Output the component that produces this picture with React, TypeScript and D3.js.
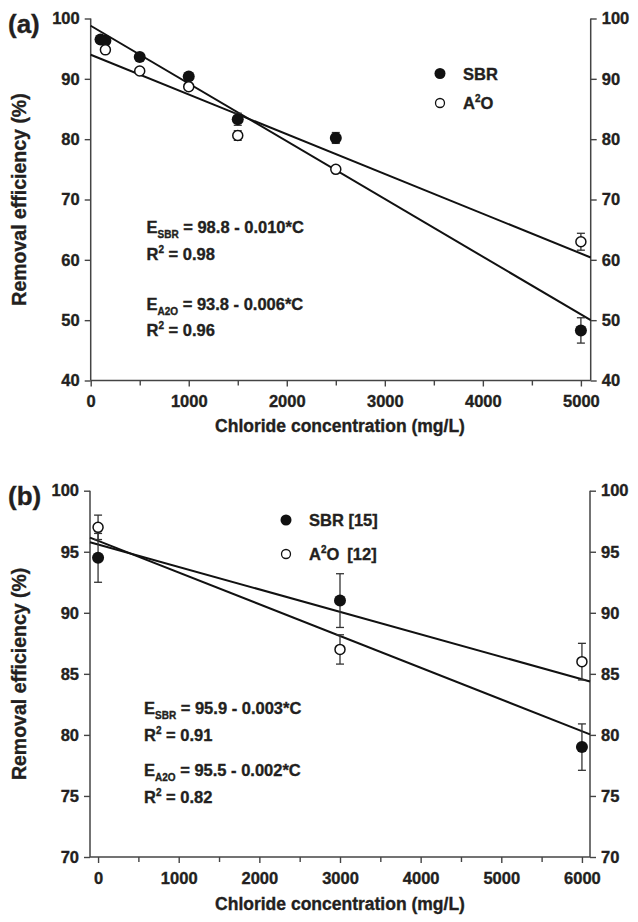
import React, { useEffect, useRef } from 'react';
import * as d3 from 'd3';

// panel (a): lab-scale data
const chlorideA_SBR = [100, 150, 500, 1000, 1500, 2500, 5000];
const removalA_SBR = [96.5, 96.3, 93.6, 90.4, 83.3, 80.2, 48.3];
const errA_SBR = [0.3, 0.3, 0.4, 0.5, 1.0, 0.9, 2.1];
const chlorideA_A2O = [150, 500, 1000, 1500, 2500, 5000];
const removalA_A2O = [94.8, 91.3, 88.7, 80.6, 75.0, 63.0];
const errA_A2O = [0.4, 0.4, 0.5, 0.8, 0.4, 1.4];
const fitInterceptA = [98.8, 94.0]; // SBR, A2O
const fitSlopeA = [-0.00957, -0.00659];

// panel (b): literature data
const chlorideB = [0, 3000, 6000];
const removalB_SBR = [94.5, 91.0, 79.0];
const errB_SBR = [2.0, 2.2, 1.9];
const removalB_A2O = [97.0, 87.0, 86.0];
const errB_A2O = [1.0, 1.2, 1.5];
const fitInterceptB = [95.9, 95.6];
const fitSlopeB = [-0.0026, -0.00184];

const xTicksA = [0, 1000, 2000, 3000, 4000, 5000];
const xMinorA = [500, 1500, 2500, 3500, 4500];
const yTicksA = [40, 50, 60, 70, 80, 90, 100];
const xTicksB = [0, 1000, 2000, 3000, 4000, 5000, 6000];
const xMinorB = [500, 1500, 2500, 3500, 4500, 5500];
const yTicksB = [70, 75, 80, 85, 90, 95, 100];

const FONT = '"Liberation Sans", Arial, sans-serif';
const AXIS = '#444';
const TEXT = '#231f20';

type Panel = {
  label: string;
  xDomain: [number, number];
  yDomain: [number, number];
  xRange: [number, number];
  yRange: [number, number];
  xTicks: number[];
  xMinor: number[];
  yTicks: number[];
  sbr: { x: number[]; y: number[]; e: number[] };
  a2o: { x: number[]; y: number[]; e: number[] };
  intercepts: number[];
  slopes: number[];
  legend: { x: number; y: number[]; names: string[] };
  eq: { x: number; y: number[]; lines: string[][] };
  titleY: number;
};

function boldText(sel: any, size: number) {
  return sel
    .style('font-family', FONT)
    .style('font-weight', 'bold')
    .style('font-size', `${size}px`)
    .attr('fill', TEXT)
    .attr('stroke', TEXT)
    .attr('stroke-width', 0.35);
}

function drawPanel(svg: d3.Selection<SVGSVGElement, unknown, null, undefined>, p: Panel) {
  const x = d3.scaleLinear().domain(p.xDomain).range(p.xRange);
  const y = d3.scaleLinear().domain(p.yDomain).range(p.yRange);
  const g = svg.append('g');
  const [x0, x1] = p.xRange;
  const [yb, yt] = p.yRange;
  const fmt = d3.format('d');

  const left = g.append('g').attr('transform', `translate(${x0},0)`)
    .call(d3.axisLeft(y).tickValues(p.yTicks).tickSize(6).tickPadding(5).tickFormat(fmt));
  const right = g.append('g').attr('transform', `translate(${x1},0)`)
    .call(d3.axisRight(y).tickValues(p.yTicks).tickSize(6).tickPadding(5).tickFormat(fmt));
  const bottom = g.append('g').attr('transform', `translate(0,${yb})`)
    .call(d3.axisBottom(x).tickValues(p.xTicks).tickSize(6).tickPadding(9).tickFormat(fmt));
  g.append('g').attr('transform', `translate(0,${yb})`)
    .call(d3.axisBottom(x).tickValues(p.xMinor).tickSize(5).tickFormat(() => ''))
    .call((s) => s.select('.domain').remove());

  [left, right, bottom].forEach((a) => {
    a.select('.domain').remove();
    boldText(a.selectAll('text'), 16.5);
  });
  g.selectAll('.tick line').attr('stroke', AXIS).attr('stroke-width', 1.4);
  g.append('line').attr('x1', x0).attr('x2', x0).attr('y1', yt).attr('y2', yb).attr('stroke', AXIS).attr('stroke-width', 1.5);
  g.append('line').attr('x1', x1).attr('x2', x1).attr('y1', yt).attr('y2', yb).attr('stroke', AXIS).attr('stroke-width', 1.5);
  g.append('line').attr('x1', x0).attr('x2', x1).attr('y1', yb).attr('y2', yb).attr('stroke', AXIS).attr('stroke-width', 1.5);

  // regression lines
  p.intercepts.forEach((b, i) => {
    const m = p.slopes[i];
    g.append('line')
      .attr('x1', x(p.xDomain[0])).attr('y1', y(b + m * p.xDomain[0]))
      .attr('x2', x(p.xDomain[1])).attr('y2', y(b + m * p.xDomain[1]))
      .attr('stroke', '#111').attr('stroke-width', 2);
  });

  const series = [
    { d: p.sbr, filled: true },
    { d: p.a2o, filled: false },
  ];
  series.forEach(({ d, filled }) => {
    const pts = d.x.map((cx, i) => ({ cx, cy: d.y[i], e: d.e[i] }));
    const eb = g.append('g').attr('stroke', '#333').attr('stroke-width', 1.3);
    pts.forEach((pt) => {
      const px = x(pt.cx);
      eb.append('line').attr('x1', px).attr('x2', px).attr('y1', y(pt.cy + pt.e)).attr('y2', y(pt.cy - pt.e));
      [pt.cy + pt.e, pt.cy - pt.e].forEach((v) => {
        eb.append('line').attr('x1', px - 4).attr('x2', px + 4).attr('y1', y(v)).attr('y2', y(v));
      });
    });
    g.selectAll(null)
      .data(pts)
      .join('circle')
      .attr('cx', (pt) => x(pt.cx))
      .attr('cy', (pt) => y(pt.cy))
      .attr('r', filled ? 6 : 5)
      .attr('fill', filled ? '#111' : '#fff')
      .attr('stroke', '#111')
      .attr('stroke-width', filled ? 0 : 1.5);
  });

  // legend
  const lg = g.append('g');
  lg.append('circle').attr('cx', p.legend.x).attr('cy', p.legend.y[0]).attr('r', 5.5).attr('fill', '#111');
  lg.append('circle').attr('cx', p.legend.x).attr('cy', p.legend.y[1]).attr('r', 4.5).attr('fill', '#fff').attr('stroke', '#111').attr('stroke-width', 1.3);
  boldText(lg.append('text').attr('x', p.legend.x + 23).attr('y', p.legend.y[0] + 6), 16.5).text(p.legend.names[0]);
  const t2 = boldText(lg.append('text').attr('x', p.legend.x + 23).attr('y', p.legend.y[1] + 6), 16.5);
  t2.append('tspan').text('A');
  t2.append('tspan').attr('dy', -7).style('font-size', '10px').text('2');
  t2.append('tspan').attr('dy', 7).text('O');
  if (p.legend.names[1]) t2.append('tspan').attr('dx', 8).text(p.legend.names[1]);

  // equations
  p.eq.lines.forEach((ln, i) => {
    const t = boldText(g.append('text').attr('x', p.eq.x).attr('y', p.eq.y[i]), 16.5);
    if (ln[0] === 'R') {
      t.append('tspan').text('R');
      t.append('tspan').attr('dy', -7).style('font-size', '10px').text('2');
      t.append('tspan').attr('dy', 7).text(ln[1]);
    } else {
      t.append('tspan').text('E');
      t.append('tspan').attr('dy', 5).style('font-size', '10px').text(ln[0]);
      t.append('tspan').attr('dy', -5).text(ln[1]);
    }
  });

  // titles
  boldText(g.append('text').attr('x', 8).attr('y', yt + 14), 26).text(p.label);
  boldText(
    g.append('text')
      .attr('transform', `translate(26,${(yt + yb) / 2}) rotate(-90)`)
      .attr('text-anchor', 'middle'),
    19.5,
  ).text('Removal efficiency (%)');
  boldText(g.append('text').attr('x', 340).attr('y', p.titleY).attr('text-anchor', 'middle'), 17.5)
    .text('Chloride concentration (mg/L)');
}

const App = () => {
  const svgRef = useRef<SVGSVGElement>(null);

  useEffect(() => {
    const svg = d3.select(svgRef.current as SVGSVGElement);
    svg.selectAll('*').remove();

    drawPanel(svg, {
      label: '(a)',
      xDomain: [0, 5100],
      yDomain: [40, 100],
      xRange: [90.7, 590.7],
      yRange: [380.5, 18.5],
      xTicks: xTicksA,
      xMinor: xMinorA,
      yTicks: yTicksA,
      sbr: { x: chlorideA_SBR, y: removalA_SBR, e: errA_SBR },
      a2o: { x: chlorideA_A2O, y: removalA_A2O, e: errA_A2O },
      intercepts: fitInterceptA,
      slopes: fitSlopeA,
      legend: { x: 440, y: [73.5, 103], names: ['SBR', ''] },
      eq: { x: 146.5, y: [232.5, 260, 310, 336], lines: [['SBR', ' = 98.8 - 0.010*C'], ['R', ' = 0.98'], ['A2O', ' = 93.8 - 0.006*C'], ['R', ' = 0.96']] },
      titleY: 432,
    });

    drawPanel(svg, {
      label: '(b)',
      xDomain: [-100, 6100],
      yDomain: [70, 100],
      xRange: [90, 590],
      yRange: [857, 490.7],
      xTicks: xTicksB,
      xMinor: xMinorB,
      yTicks: yTicksB,
      sbr: { x: chlorideB, y: removalB_SBR, e: errB_SBR },
      a2o: { x: chlorideB, y: removalB_A2O, e: errB_A2O },
      intercepts: fitInterceptB,
      slopes: fitSlopeB,
      legend: { x: 286, y: [520, 554], names: ['SBR [15]', '[12]'] },
      eq: { x: 144, y: [714, 741, 776, 803], lines: [['SBR', ' = 95.9 - 0.003*C'], ['R', ' = 0.91'], ['A2O', ' = 95.5 - 0.002*C'], ['R', ' = 0.82']] },
      titleY: 910,
    });
  }, []);

  return (
    <div style={{ position: 'absolute', left: 0, top: 0 }}>
      <svg ref={svgRef} width={638} height={922} style={{ display: 'block', background: '#fff' }} />
    </div>
  );
};

export default App;
